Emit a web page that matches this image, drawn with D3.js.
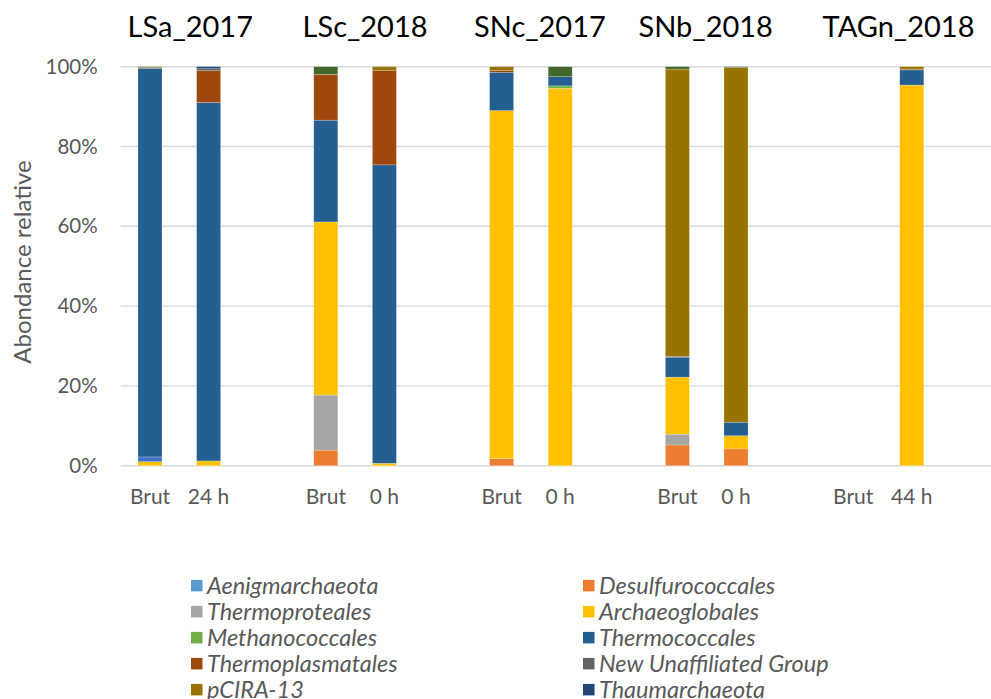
<!DOCTYPE html>
<html>
<head>
<meta charset="utf-8">
<script src="https://cdn.jsdelivr.net/npm/d3@7"></script>
<style>
  html, body { margin: 0; padding: 0; background: #fff; overflow: hidden; }
  svg { display: block; font-family: Lato, "Open Sans", sans-serif; }
</style>
</head>
<body>
<svg id="chart" width="991" height="699"></svg>
<script>
// Sites and samples (Brut = raw sample, then incubation time)
const sites = ["LSa_2017", "LSc_2018", "SNc_2017", "SNb_2018", "TAGn_2018"];
const sampleLabels = ["Brut", "24 h", "Brut", "0 h", "Brut", "0 h", "Brut", "0 h", "Brut", "44 h"];

// Taxa, in stacking order (bottom to top)
const taxa = [
  "Aenigmarchaeota", "Desulfurococcales", "Thermoproteales", "Archaeoglobales",
  "groupe_5", "Methanococcales", "Thermococcales", "Thermoplasmatales",
  "New Unaffiliated Group", "pCIRA-13", "Thaumarchaeota", "groupe_12"
];
const colors = [
  "#5B9BD5", "#ED7D31", "#A5A5A5", "#FFC000",
  "#4472C4", "#70AD47", "#255E91", "#9E480E",
  "#636363", "#997300", "#264478", "#43682B"
];
// Entries shown in the legend
const legendTaxa = [
  "Aenigmarchaeota", "Desulfurococcales", "Thermoproteales", "Archaeoglobales",
  "Methanococcales", "Thermococcales", "Thermoplasmatales", "New Unaffiliated Group",
  "pCIRA-13", "Thaumarchaeota"
];

// Relative abundance (%) per sample, same order as sampleLabels
const aenigmarchaeota   = [0,    0,    0,    0,    0,    0,    0,    0,    0, 0];
const desulfurococcales = [0,    0,    3.9,  0,    1.8,  0,    5.2,  4.2,  0, 0];
const thermoproteales   = [0,    0,   13.8,  0,    0,    0,    2.7,  0,    0, 0];
const archaeoglobales   = [1.0,  1.2, 43.4,  0.6, 87.2, 94.6, 14.3,  3.3,  0, 95.4];
const groupe5           = [1.2,  0,    0,    0,    0,    0,    0,    0,    0, 0];
const methanococcales   = [0,    0,    0,    0,    0,    0.6,  0,    0,    0, 0];
const thermococcales    = [97.4, 89.8, 25.5, 74.8,  9.6,  2.3,  5.0,  3.4,  0, 3.8];
const thermoplasmatales = [0.2,  8.0, 11.5, 23.6,  0.4,  0,    0,    0,    0, 0.2];
const newUnaffiliated   = [0,    0.5,  0,    0,    0,    0,    0.2,  0,    0, 0];
const pCIRA13           = [0,    0,    0,    1.0,  1.0,  0,   72.0, 88.9,  0, 0.6];
const thaumarchaeota    = [0,    0.5,  0,    0,    0,    0,    0,    0,    0, 0];
const groupe12          = [0.2,  0,    1.9,  0,    0,    2.5,  0.6,  0.2,  0, 0];

const seriesValues = [
  aenigmarchaeota, desulfurococcales, thermoproteales, archaeoglobales,
  groupe5, methanococcales, thermococcales, thermoplasmatales,
  newUnaffiliated, pCIRA13, thaumarchaeota, groupe12
];

const yTicks = [0, 20, 40, 60, 80, 100];

// Build one row per sample, plus an empty slot after every site
const rows = [];
const slots = [];
sampleLabels.forEach((lab, i) => {
  const site = sites[Math.floor(i / 2)];
  const key = site + " " + lab;
  const row = { key, site, label: lab };
  taxa.forEach((t, k) => { row[t] = seriesValues[k][i]; });
  rows.push(row);
  slots.push(key);
  if (i % 2 === 1) slots.push("gap " + site);
});

const svg = d3.select("#chart");
const margin = { left: 120.7, top: 66.7, bottom: 465.7 };
const slotWidth = 58.6;

const x = d3.scaleBand()
  .domain(slots)
  .range([margin.left, margin.left + slotWidth * slots.length])
  .paddingInner(0.59)
  .paddingOuter(0.295);

const y = d3.scaleLinear().domain([0, 100]).range([margin.bottom, margin.top]);

// Gridlines
svg.append("g")
  .selectAll("line")
  .data(yTicks)
  .join("line")
  .attr("x1", margin.left)
  .attr("x2", 991)
  .attr("y1", d => y(d))
  .attr("y2", d => y(d))
  .attr("stroke", "#D9D9D9")
  .attr("stroke-width", 1.4);

// Y axis labels
const yAxis = d3.axisLeft(y).tickValues(yTicks).tickFormat(d => d + "%").tickSize(0).tickPadding(0);
const yg = svg.append("g").attr("transform", `translate(${margin.left - 23},0)`).call(yAxis);
yg.select(".domain").remove();
yg.selectAll("text")
  .attr("font-size", 20.5)
  .attr("fill", "#595959")
  .attr("font-family", "Lato, 'Open Sans', sans-serif");

// Y axis title
svg.append("text")
  .attr("transform", `translate(31,262) rotate(-90)`)
  .attr("text-anchor", "middle")
  .attr("font-size", 24)
  .attr("fill", "#595959")
  .text("Abondance relative");

// Stacked bars
const stack = d3.stack().keys(taxa);
const stacked = stack(rows);

svg.append("g")
  .selectAll("g")
  .data(stacked)
  .join("g")
  .attr("fill", (d, i) => colors[i])
  .selectAll("rect")
  .data(d => d.filter(s => s[1] - s[0] > 0))
  .join("rect")
  .attr("x", d => x(d.data.key))
  .attr("width", x.bandwidth())
  .attr("y", d => y(d[1]))
  .attr("height", d => y(d[0]) - y(d[1]))
  .attr("stroke", "#ffffff")
  .attr("stroke-opacity", 0.35)
  .attr("stroke-width", 0.6);

// Sample labels under the bars
const xAxis = d3.axisBottom(x).tickSize(0).tickPadding(0)
  .tickValues(rows.map(r => r.key))
  .tickFormat(k => rows.find(r => r.key === k).label);
const xg = svg.append("g").attr("transform", `translate(0,${margin.bottom + 23})`).call(xAxis);
xg.select(".domain").remove();
xg.selectAll("text")
  .attr("font-size", 21)
  .attr("fill", "#595959")
  .attr("font-family", "Lato, 'Open Sans', sans-serif");

// Site titles above each pair of bars
const titleOffsets = [11, 10, 9, -1, 16];
svg.append("g")
  .selectAll("text")
  .data(sites)
  .join("text")
  .attr("x", (s, i) => {
    const a = x(s + " " + sampleLabels[2 * i]);
    const b = x(s + " " + sampleLabels[2 * i + 1]);
    return (a + b + x.bandwidth()) / 2 + titleOffsets[i];
  })
  .attr("y", 37)
  .attr("text-anchor", "middle")
  .attr("font-size", 29)
  .attr("fill", "#000")
  .text(d => d);

// Legend, two columns
const legend = svg.append("g");
const legendCols = [191, 583];
const legendTop = 585.7;
const legendRow = 26;
legendTaxa.forEach((t, i) => {
  const col = i % 2, row = Math.floor(i / 2);
  const gx = legendCols[col], gy = legendTop + row * legendRow;
  const g = legend.append("g").attr("transform", `translate(${gx},${gy})`);
  g.append("rect")
    .attr("x", 0).attr("y", -5.8)
    .attr("width", 11.5).attr("height", 11.5)
    .attr("fill", colors[taxa.indexOf(t)]);
  g.append("text")
    .attr("x", 16)
    .attr("y", 0)
    .attr("dy", "0.35em")
    .attr("font-size", 23.5)
    .attr("font-style", "italic")
    .attr("fill", "#595959")
    .text(t);
});
</script>
</body>
</html>
